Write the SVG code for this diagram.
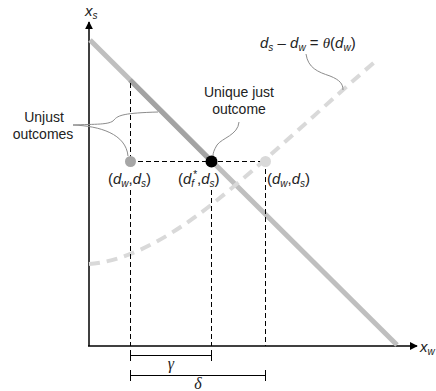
<svg xmlns="http://www.w3.org/2000/svg" width="436" height="391" viewBox="0 0 436 391">
<style>
.t{font-family:"Liberation Sans",Arial,sans-serif;font-size:14px;fill:#222}
.m{font-family:"Liberation Sans",Arial,sans-serif;font-size:15px;fill:#222}
.i{font-style:italic}
.s{font-size:10px}
.g{font-family:"Liberation Serif","Times New Roman",serif;font-style:italic;font-size:16px;fill:#222}
.dash{stroke:#000;stroke-width:1;stroke-dasharray:5,3;fill:none}
.lead{stroke:#8c8c8c;stroke-width:1;fill:none}
.ax{stroke:#000;stroke-width:1.5;fill:none}
</style>
<defs>
<marker id="ah" viewBox="0 0 10 10" refX="9" refY="5" markerWidth="8" markerHeight="8" markerUnits="userSpaceOnUse" orient="auto">
<path d="M0,0 L10,5 L0,10 Z" fill="#000"/>
</marker>
</defs>
<g id="axes">
<path class="ax" d="M89,346 L89,22" marker-end="url(#ah)"/>
<path class="ax" d="M88,346 L417,346" marker-end="url(#ah)"/>
<text class="m i" x="85" y="16">x<tspan class="s" dy="3">s</tspan></text>
<text class="m i" x="420" y="352">x<tspan class="s" dy="3">w</tspan></text>
</g>
<g id="frontier">
<line x1="90" y1="40" x2="397" y2="345" stroke="#bfbfbf" stroke-width="5"/>
<line x1="130" y1="80" x2="211" y2="161" stroke="#a3a3a3" stroke-width="5"/>
</g>
<g id="curve">
<path d="M89,264 C120,262 160,245 211,205 S330,100 377,60" fill="none" stroke="#d9d9d9" stroke-width="4" stroke-dasharray="11,7"/>
</g>
<g id="connectors">
<path class="dash" d="M130.5,83 L130.5,161 M130.5,190 L130.5,346"/>
<path class="dash" d="M211.5,190 L211.5,346"/>
<path class="dash" d="M265.5,161 L265.5,346"/>
<path class="dash" d="M130,161.5 L265,161.5"/>
<path class="lead" d="M73,125 C95,124 110,125 114,120 C118,115 125,113 158,112"/>
<path class="lead" d="M73,125 C100,126 126,134 128,156"/>
<path class="lead" d="M239,122 C238,135 222,138 217,145 C214,150 213,153 213,156"/>
<path class="lead" d="M306,54 C308,68 318,72 330,76 C340,80 343,84 343,90"/>
</g>
<g id="unjust-left">
<circle cx="130.5" cy="161.5" r="5.5" fill="#a6a6a6"/>
<text class="m" x="108" y="184">(<tspan class="i">d</tspan><tspan class="s i" dy="3">w</tspan><tspan dy="-3">,</tspan><tspan class="i">d</tspan><tspan class="s i" dy="3">s</tspan><tspan dy="-3">)</tspan></text>
</g>
<g id="just">
<circle cx="211.5" cy="161.5" r="6" fill="#000"/>
<text class="m" x="178" y="184">(<tspan class="i">d</tspan><tspan class="s i" dy="3">f</tspan><tspan class="s" dx="-1" dy="-9">*</tspan><tspan dy="6">,</tspan><tspan class="i">d</tspan><tspan class="s i" dy="3">s</tspan><tspan dy="-3">)</tspan></text>
</g>
<g id="unjust-right">
<circle cx="265.5" cy="161.5" r="5.5" fill="#d9d9d9"/>
<text class="m" x="267" y="184">(<tspan class="i">d</tspan><tspan class="s i" dy="3">w</tspan><tspan dy="-3">,</tspan><tspan class="i">d</tspan><tspan class="s i" dy="3">s</tspan><tspan dy="-3">)</tspan></text>
</g>
<g id="label-unjust">
<text class="t" x="44" y="122" text-anchor="middle">Unjust</text>
<text class="t" x="43" y="139" text-anchor="middle">outcomes</text>
</g>
<g id="label-just">
<text class="t" x="239" y="97" text-anchor="middle">Unique just</text>
<text class="t" x="239" y="114" text-anchor="middle">outcome</text>
</g>
<g id="label-eq">
<text class="m" x="260" y="48"><tspan class="i">d</tspan><tspan class="s i" dy="3">s</tspan><tspan dy="-3"> – </tspan><tspan class="i">d</tspan><tspan class="s i" dy="3">w</tspan><tspan dy="-3"> = </tspan><tspan class="i" font-family="Liberation Serif, serif">θ</tspan>(<tspan class="i">d</tspan><tspan class="s i" dy="3">w</tspan><tspan dy="-3">)</tspan></text>
</g>
<g id="gamma">
<path d="M130.5,355.5 L211.5,355.5 M130.5,350 L130.5,361 M211.5,350 L211.5,361" stroke="#000" stroke-width="1" fill="none"/>
<text class="g" x="171" y="369" text-anchor="middle">γ</text>
</g>
<g id="delta">
<path d="M130.5,375.5 L265.5,375.5 M130.5,370 L130.5,381 M265.5,370 L265.5,381" stroke="#000" stroke-width="1" fill="none"/>
<text class="g" x="198" y="389" text-anchor="middle">δ</text>
</g>
</svg>
